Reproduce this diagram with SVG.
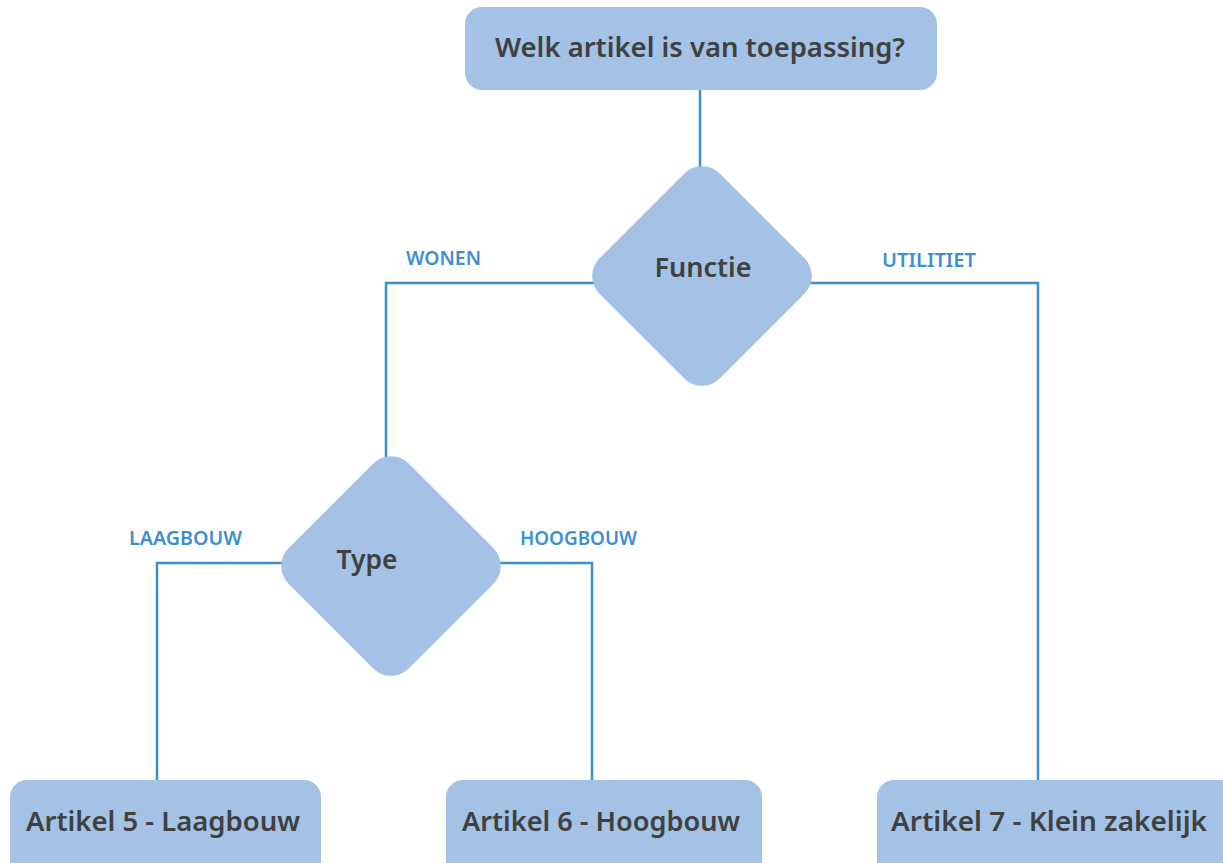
<svg xmlns="http://www.w3.org/2000/svg" width="1223" height="863" viewBox="0 0 1223 863">
<style>
.box{fill:#a3c2e6;}
.t{font-family:"Noto Sans","DejaVu Sans",sans-serif;font-weight:600;font-size:27px;fill:#404040;text-anchor:middle;}
.lbl{font-family:"Noto Sans","DejaVu Sans",sans-serif;font-weight:600;font-size:19px;fill:#3d8fd0;}
.c{fill:none;stroke:#3d8fd0;stroke-width:2.5;}
</style>
<rect width="1223" height="863" fill="#ffffff"/>
<g id="connectors">
<path class="c" d="M700 90 V170"/>
<path class="c" d="M596 283 H386 V460"/>
<path class="c" d="M809 283 H1038 V781"/>
<path class="c" d="M285 563 H157 V781"/>
<path class="c" d="M498 563 H592 V781"/>
<text class="lbl" x="406" y="265" textLength="75" lengthAdjust="spacingAndGlyphs">WONEN</text>
<text class="lbl" x="882" y="267" textLength="94" lengthAdjust="spacingAndGlyphs">UTILITIET</text>
<text class="lbl" x="129" y="545" textLength="113" lengthAdjust="spacingAndGlyphs">LAAGBOUW</text>
<text class="lbl" x="520" y="545" textLength="117" lengthAdjust="spacingAndGlyphs">HOOGBOUW</text>
</g>
<g id="start">
<rect class="box" x="465" y="7" width="472" height="83" rx="17"/>
<text class="t" x="700" y="57" textLength="410" lengthAdjust="spacingAndGlyphs">Welk artikel is van toepassing?</text>
</g>
<g id="functie">
<rect class="box" x="-85" y="-85" width="170" height="170" rx="25" transform="translate(702 276) rotate(45)"/>
<text class="t" x="703" y="277" textLength="97" lengthAdjust="spacingAndGlyphs">Functie</text>
</g>
<g id="type">
<rect class="box" x="-85" y="-85" width="170" height="170" rx="25" transform="translate(391 566) rotate(45)"/>
<text class="t" x="367" y="569" textLength="61" lengthAdjust="spacingAndGlyphs">Type</text>
</g>
<g id="art5">
<rect class="box" x="10" y="780" width="311" height="100" rx="17"/>
<text class="t" x="163" y="831" textLength="274" lengthAdjust="spacingAndGlyphs">Artikel 5 - Laagbouw</text>
</g>
<g id="art6">
<rect class="box" x="446" y="780" width="316" height="100" rx="17"/>
<text class="t" x="601" y="831" textLength="278" lengthAdjust="spacingAndGlyphs">Artikel 6 - Hoogbouw</text>
</g>
<g id="art7">
<rect class="box" x="877" y="780" width="360" height="100" rx="17"/>
<text class="t" x="1049" y="831" textLength="316" lengthAdjust="spacingAndGlyphs">Artikel 7 - Klein zakelijk</text>
</g>
</svg>
